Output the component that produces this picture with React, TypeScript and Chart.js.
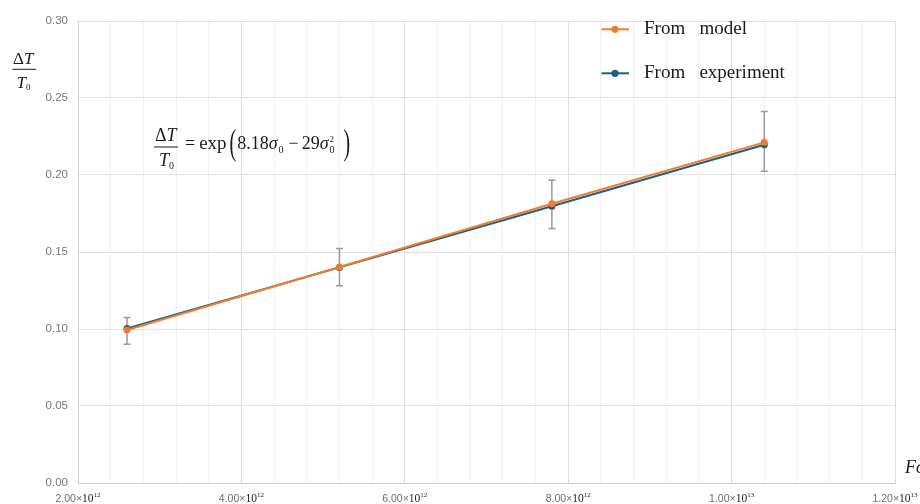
import React, { useEffect, useRef } from 'react';
import { Chart, registerables } from 'chart.js';

Chart.register(...registerables);

// ---- Data ----
const fourierNumbers = [2.6e12, 5.2e12, 7.8e12, 1.04e13];
const modelValues = [0.0993, 0.1403, 0.1813, 0.2212];
const experimentValues = [0.1003, 0.14, 0.1797, 0.2196];
const errorUpper = [0.1074, 0.1522, 0.1966, 0.2413];
const errorLower = [0.0901, 0.1281, 0.1652, 0.2024];
const seriesNames = ['From   model', 'From   experiment'];
const seriesColors = ['#ED7D31', '#1F5F80'];
const xLabelValues = [2e12, 4e12, 6e12, 8e12, 1e13, 1.2e13];
const yTickValues = [0, 0.05, 0.1, 0.15, 0.2, 0.25, 0.3];
const X_MIN = 2e12;
const X_MAX = 1.2e13;
const X_MINOR = 4e11;

const SERIF = '"Liberation Serif", "Times New Roman", serif';
const SANS = '"Liberation Sans", Arial, sans-serif';

function isMajor(v: number) {
  const r = v / 2e12;
  return Math.abs(r - Math.round(r)) < 1e-6;
}

const errorBarPlugin = {
  id: 'errorBars',
  beforeDatasetsDraw(chart: any) {
    const { ctx, scales } = chart;
    const x = scales.x;
    const y = scales.y;
    ctx.save();
    ctx.strokeStyle = '#9a9a9a';
    ctx.lineWidth = 1.5;
    fourierNumbers.forEach((fx, i) => {
      const px = x.getPixelForValue(fx);
      const top = y.getPixelForValue(errorUpper[i]);
      const bot = y.getPixelForValue(errorLower[i]);
      ctx.beginPath();
      ctx.moveTo(px, top);
      ctx.lineTo(px, bot);
      ctx.moveTo(px - 3.5, top);
      ctx.lineTo(px + 3.5, top);
      ctx.moveTo(px - 3.5, bot);
      ctx.lineTo(px + 3.5, bot);
      ctx.stroke();
    });
    ctx.restore();
  },
};

function drawSeq(ctx: CanvasRenderingContext2D, x: number, baseline: number, pieces: any[]) {
  let cx = x;
  for (const p of pieces) {
    if (p.gap) {
      cx += p.gap;
      continue;
    }
    ctx.font = p.font;
    const w = ctx.measureText(p.t).width;
    if (p.sx) {
      ctx.save();
      ctx.translate(cx, baseline + (p.dy || 0));
      ctx.scale(p.sx, 1);
      ctx.fillText(p.t, 0, 0);
      ctx.restore();
      cx += w * p.sx;
    } else {
      ctx.fillText(p.t, cx, baseline + (p.dy || 0));
      if (!p.noAdvance) cx += w;
    }
  }
  return cx;
}

const textPlugin = {
  id: 'texts',
  afterDraw(chart: any) {
    const { ctx, scales } = chart;
    const x = scales.x;
    ctx.save();
    ctx.textAlign = 'left';
    ctx.textBaseline = 'alphabetic';

    // Legend
    const legendY = [29.3, 73.3];
    seriesNames.forEach((name, i) => {
      const ly = legendY[i];
      ctx.strokeStyle = seriesColors[i];
      ctx.lineWidth = 2;
      ctx.beginPath();
      ctx.moveTo(601.5, ly);
      ctx.lineTo(629, ly);
      ctx.stroke();
      ctx.fillStyle = seriesColors[i];
      ctx.beginPath();
      ctx.arc(615, ly, 3.6, 0, Math.PI * 2);
      ctx.fill();
      ctx.fillStyle = '#1a1a1a';
      ctx.font = `19px ${SERIF}`;
      ctx.fillText(name, 644, ly + 5);
    });

    // Y-axis title: ΔT / T0
    ctx.fillStyle = '#1a1a1a';
    drawSeq(ctx, 13, 64, [
      { t: 'Δ', font: `17px ${SERIF}` },
      { t: 'T', font: `italic 17px ${SERIF}` },
    ]);
    ctx.fillRect(12.5, 68.8, 23.5, 1);
    drawSeq(ctx, 16.5, 88, [
      { t: 'T', font: `italic 17px ${SERIF}` },
      { t: '0', font: `9px ${SERIF}`, dy: 2 },
    ]);

    // Equation
    drawSeq(ctx, 155, 141, [
      { t: 'Δ', font: `18px ${SERIF}` },
      { t: 'T', font: `italic 18px ${SERIF}` },
    ]);
    ctx.fillRect(154, 146.5, 24, 1);
    drawSeq(ctx, 159, 166, [
      { t: 'T', font: `italic 18px ${SERIF}` },
      { t: '0', font: `10px ${SERIF}`, dy: 3 },
    ]);
    drawSeq(ctx, 185, 149, [
      { t: '=', font: `18px ${SERIF}` },
      { gap: 4 },
      { t: 'exp', font: `19px ${SERIF}` },
      { gap: 3 },
      { t: '(', font: `36px ${SERIF}`, sx: 0.55, dy: 5 },
      { gap: 1 },
      { t: '8.18', font: `18px ${SERIF}` },
      { t: 'σ', font: `italic 18px ${SERIF}` },
      { gap: 1 },
      { t: '0', font: `10px ${SERIF}`, dy: 4 },
      { gap: 5 },
      { t: '−', font: `18px ${SERIF}` },
      { gap: 3 },
      { t: '29', font: `18px ${SERIF}` },
      { t: 'σ', font: `italic 18px ${SERIF}` },
      { gap: 1 },
      { t: '2', font: `9px ${SERIF}`, dy: -7, noAdvance: true },
      { t: '0', font: `10px ${SERIF}`, dy: 4 },
      { gap: 9 },
      { t: ')', font: `36px ${SERIF}`, sx: 0.55, dy: 5 },
    ]);

    // X-axis title (cut off at edge)
    ctx.font = `italic 18px ${SERIF}`;
    ctx.fillText('Fo', 905, 473);

    // X tick labels with powers of ten
    xLabelValues.forEach((v) => {
      const exp = Math.floor(Math.log10(v) + 1e-9);
      const mant = (v / Math.pow(10, exp)).toFixed(2) + '×';
      const fM = `10.5px ${SANS}`;
      const fT = `11.5px ${SERIF}`;
      const fE = `7px ${SERIF}`;
      ctx.font = fM;
      const w1 = ctx.measureText(mant).width;
      ctx.font = fT;
      const w2 = ctx.measureText('10').width;
      ctx.font = fE;
      const w3 = ctx.measureText(String(exp)).width;
      const total = w1 + w2 + w3;
      const px = x.getPixelForValue(v);
      let sx = px - total / 2;
      const base = 502;
      ctx.font = fM;
      ctx.fillStyle = '#6e6e6e';
      ctx.fillText(mant, sx, base);
      sx += w1;
      ctx.font = fT;
      ctx.fillStyle = '#222';
      ctx.fillText('10', sx, base);
      sx += w2;
      ctx.font = fE;
      ctx.fillText(String(exp), sx, base - 5);
    });

    ctx.restore();
  },
};

export default function App() {
  const canvasRef = useRef<HTMLCanvasElement | null>(null);

  useEffect(() => {
    const canvas = canvasRef.current;
    if (!canvas) return;
    const xTickValues: number[] = [];
    for (let v = X_MIN; v <= X_MAX + 1; v += X_MINOR) xTickValues.push(v);

    const chart = new Chart(canvas, {
      type: 'line',
      data: {
        datasets: [
          {
            label: seriesNames[0],
            data: fourierNumbers.map((fx, i) => ({ x: fx, y: modelValues[i] })),
            borderColor: seriesColors[0],
            backgroundColor: seriesColors[0],
            borderWidth: 2,
            pointRadius: 3.5,
            pointBorderWidth: 0,
            tension: 0,
          },
          {
            label: seriesNames[1],
            data: fourierNumbers.map((fx, i) => ({ x: fx, y: experimentValues[i] })),
            borderColor: seriesColors[1],
            backgroundColor: seriesColors[1],
            borderWidth: 2,
            pointRadius: 3.5,
            pointBorderWidth: 0,
            tension: 0,
          },
        ],
      },
      options: {
        responsive: false,
        animation: false,
        devicePixelRatio: 1,
        layout: { padding: { top: 21, right: 25, left: 0, bottom: 0 } },
        plugins: {
          legend: { display: false },
          tooltip: { enabled: false },
        },
        scales: {
          x: {
            type: 'linear',
            min: X_MIN,
            max: X_MAX,
            afterBuildTicks: (scale: any) => {
              scale.ticks = xTickValues.map((v) => ({ value: v }));
            },
            afterFit: (scale: any) => {
              scale.height = 21;
            },
            ticks: { display: false },
            grid: {
              drawTicks: false,
              color: (c: any) => (isMajor(c.tick.value) ? '#dcdcdc' : '#efefef'),
              lineWidth: 1,
            },
            border: { color: '#d0d0d0', width: 1 },
          },
          y: {
            type: 'linear',
            min: 0,
            max: 0.3,
            afterBuildTicks: (scale: any) => {
              scale.ticks = yTickValues.map((v) => ({ value: v }));
            },
            afterFit: (scale: any) => {
              scale.width = 78;
            },
            ticks: {
              padding: 10,
              color: '#777',
              font: { family: SANS, size: 11.5 },
              callback: (v: any) => Number(v).toFixed(2),
            },
            grid: { drawTicks: false, color: '#e2e2e2', lineWidth: 1 },
            border: { color: '#d0d0d0', width: 1 },
          },
        },
      },
      plugins: [errorBarPlugin, textPlugin],
    } as any);

    return () => chart.destroy();
  }, []);

  return (
    <div style={{ position: 'fixed', left: 0, top: 0, width: 920, height: 504, background: '#fff' }}>
      <canvas ref={canvasRef} width={920} height={504} style={{ display: 'block', width: 920, height: 504 }} />
    </div>
  );
}
